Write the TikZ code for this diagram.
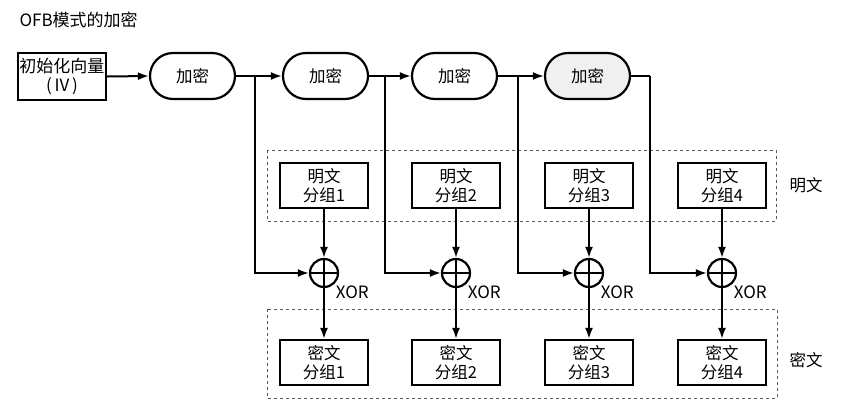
\documentclass[tikz,border=0pt]{standalone}
\usepackage{fontspec}
\setmainfont{Noto Sans CJK SC}
\usetikzlibrary{arrows.meta,shapes.misc}
\begin{document}
\begin{tikzpicture}[x=1pt,y=-1pt,
  every node/.style={font=\fontsize{16.5}{19}\selectfont},
  sqbox/.style={draw,line width=2.2pt,minimum width=88pt,minimum height=45pt,inner sep=0pt,align=center},
  encbox/.style={draw,line width=2.2pt,rounded rectangle,minimum width=85pt,minimum height=46pt,inner sep=0pt},
  xorc/.style={draw,circle,line width=2.2pt,minimum size=28pt,inner sep=0pt},
  grp/.style={draw,dashed,line width=0.8pt,gray!70!black},
  arr/.style={line width=2pt,-{Latex[length=11pt,width=8pt]}},
  ln/.style={line width=2pt}]
\useasboundingbox (0,0) rectangle (847,416);
\node[anchor=west,font=\fontsize{17}{19}\selectfont] (title) at (16,20) {OFB模式的加密};
% dashed groups
\draw[grp] (267,150) rectangle (776,221);
\draw[grp] (267,309) rectangle (777,398);
\node (lp) at (806,185) {明文};
\node (lc) at (806,360) {密文};
% top row
\node[sqbox,minimum height=47pt,font=\fontsize{17}{19}\selectfont] (iv) at (62,76.5) {初始化向量\\(\,IV\,)};
\node[encbox] (e1) at (192.5,76) {加密};
\node[encbox] (e2) at (325.5,76) {加密};
\node[encbox] (e3) at (454.5,76) {加密};
\node[encbox,fill=gray!12] (e4) at (587.5,76) {加密};
\coordinate (j1) at (255,76);
\coordinate (j2) at (385,76);
\coordinate (j3) at (518,76);
\coordinate (j4) at (650,76);
\draw[arr] (iv.east) -- (e1.west);
\draw[arr] (e1.east) -- (e2.west);
\draw[arr] (e2.east) -- (e3.west);
\draw[arr] (e3.east) -- (e4.west);
\draw[ln] (e4.east) -- (j4);
% plaintext, xor, ciphertext
\foreach \i/\x in {1/324,2/456,3/589,4/722}{
  \node[sqbox] (p\i) at (\x,185.5) {明文\\分组\i};
  \node[xorc] (x\i) at (\x,273) {};
  \draw[ln] (x\i.north) -- (x\i.south) (x\i.west) -- (x\i.east);
  \node[anchor=north west,font=\fontsize{17}{19}\selectfont,inner sep=0pt] (xl\i) at ([xshift=1pt,yshift=-2pt]x\i.south east) {XOR};
  \node[sqbox] (c\i) at (\x,362.5) {密文\\分组\i};
  \draw[arr] (p\i.south) -- (x\i.north);
  \draw[arr] (x\i.south) -- (c\i.north);
  \draw[arr] (j\i) |- (x\i.west);
}
\end{tikzpicture}
\end{document}
